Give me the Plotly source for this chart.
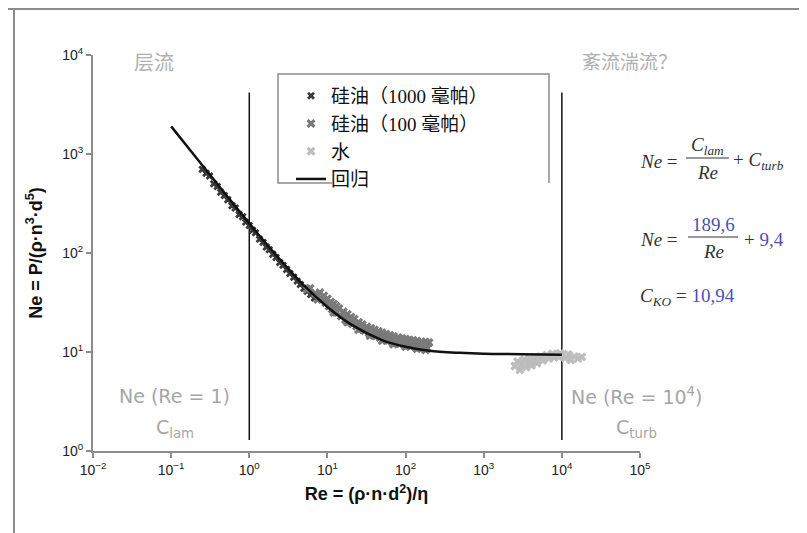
import plotly.graph_objects as go

# ---------------- data ----------------
x_tick_vals = [1e-2, 1e-1, 1e0, 1e1, 1e2, 1e3, 1e4, 1e5]
x_tick_text = ["10<sup>−2</sup>", "10<sup>−1</sup>", "10<sup>0</sup>", "10<sup>1</sup>",
               "10<sup>2</sup>", "10<sup>3</sup>", "10<sup>4</sup>", "10<sup>5</sup>"]
y_tick_vals = [1e0, 1e1, 1e2, 1e3, 1e4]
y_tick_text = ["10<sup>0</sup>", "10<sup>1</sup>", "10<sup>2</sup>", "10<sup>3</sup>", "10<sup>4</sup>"]

series_names = ["硅油（1000 毫帕）", "硅油（100 毫帕）", "水", "回归"]

# silicone oil 1000 mPa
re_1000 = [0.25, 0.28, 0.31, 0.35, 0.39, 0.43, 0.48, 0.53, 0.6, 0.66, 0.74, 0.82, 0.9, 1.0,
           1.1, 1.2, 1.35, 1.5, 1.65, 1.8, 2.0, 2.2, 2.45, 2.7, 3.0, 3.3, 3.7, 4.1, 4.5, 5.0,
           5.5, 6.1, 6.8]
ne_1000 = [700, 640, 600, 500, 470, 410, 380, 345, 300, 285, 245, 232, 205, 190,
           170, 160, 138, 128, 115, 108, 97, 90, 80, 75, 68, 62, 57, 52, 48, 44,
           41, 38, 35]

# silicone oil 100 mPa
re_100 = [8, 9, 10, 11, 12, 13, 14, 16, 18, 20, 22, 25, 28, 32, 36, 40, 45, 50, 56, 63,
          70, 80, 90, 100, 112, 125, 140, 160, 180, 200,
          6, 7, 8.5, 9.5, 10.5, 11.5, 13, 15, 17, 19, 21, 23.5, 26.5, 30, 34, 38, 42, 47,
          53, 60, 67, 75, 85, 95, 106, 118, 132, 150, 170, 190,
          5.5, 7.5, 12, 18, 25, 35, 50, 70, 100, 140, 180]
ne_100 = [40, 37, 34.5, 32, 30.5, 29, 27.5, 25.5, 24, 22.5, 21.5, 20, 19, 18, 17.4, 16.8,
          16.2, 15.6, 15.2, 14.8, 14.4, 14.0, 13.7, 13.5, 13.3, 13.1, 12.9, 12.7, 12.6, 12.5,
          44, 39, 34, 31.5, 29, 27, 25, 23, 21.2, 20.2, 19.2, 18.2, 17.3, 16.4, 15.6, 15.0, 14.5, 14.0,
          13.5, 13.1, 12.7, 12.4, 12.1, 11.9, 11.7, 11.5, 11.3, 11.1, 11.0, 10.9,
          43, 34, 25, 20, 16.8, 14.6, 13.0, 12.0, 11.3, 10.8, 10.5]

# water
re_water = [2500, 2700, 2900, 3100, 3300, 3500, 3700, 3900, 4100, 4300, 4500, 4800, 5100,
            5400, 5700, 6000, 6400, 6800, 7200, 7600, 8000, 8500, 9000, 9500, 10000, 11000,
            12000, 13000, 14500, 16000, 18000]
ne_water = [7.2, 8.0, 6.6, 7.6, 8.4, 7.0, 7.8, 8.6, 7.3, 8.1, 8.8, 7.7, 8.5,
            9.0, 8.2, 8.9, 9.3, 8.6, 9.1, 9.6, 8.8, 9.4, 9.0, 9.7, 9.2, 8.7,
            9.5, 8.3, 9.0, 8.6, 8.9]

# regression curve
re_fit = [0.1, 0.2, 0.5, 1, 2, 5, 10, 20, 50, 100, 200, 500, 1000, 3000, 10000]
ne_fit = [1900, 960, 390, 199, 104, 47, 28.5, 19, 13.2, 11.3, 10.3, 9.8, 9.6, 9.5, 9.4]

# vertical separators at Re = 1 and Re = 10^4
re_limits = [1, 1e4]
ne_limit_span = [1.29, 4170]

# ---------------- figure ----------------
# the page body has an 8px margin; figure is sized to fill the rest of the window
OFF = 8
W, H = 807 - OFF, 533 - OFF
L, R, T, B = 93, 640, 55, 451   # plot area in page pixels


def px(x):
    return (x - L) / (R - L)


def py(y):
    return (B - y) / (B - T)


fig = go.Figure()

for rl in re_limits:
    fig.add_trace(go.Scatter(x=[rl, rl], y=ne_limit_span, mode="lines",
                             line=dict(color="#111111", width=1.5),
                             showlegend=False, hoverinfo="skip"))

fig.add_trace(go.Scatter(x=re_1000, y=ne_1000, mode="markers", name=series_names[0],
                         legendgroup="a",
                         marker=dict(symbol="x", size=7, color="#3a3a3a")))
fig.add_trace(go.Scatter(x=re_100, y=ne_100, mode="markers", name=series_names[1],
                         legendgroup="b",
                         marker=dict(symbol="x", size=8, color="#7a7a7a")))
fig.add_trace(go.Scatter(x=re_water, y=ne_water, mode="markers", name=series_names[2],
                         legendgroup="c",
                         marker=dict(symbol="x", size=8, color="#bdbdbd")))
fig.add_trace(go.Scatter(x=re_fit, y=ne_fit, mode="lines", name=series_names[3],
                         legendgroup="d",
                         line=dict(color="#111111", width=2.5, shape="spline")))

tick_font = dict(family="Liberation Sans, Arial", size=14, color="#222222")
axis_common = dict(type="log", showgrid=False, zeroline=False, showline=True,
                   linecolor="#8c8c8c", linewidth=2, ticks="outside", ticklen=5,
                   tickwidth=1.5, tickcolor="#8c8c8c", tickfont=tick_font, mirror=False)

title_font = dict(family="Liberation Sans, Arial", size=18, color="#111111")
fig.update_xaxes(range=[-2, 5], tickvals=x_tick_vals, ticktext=x_tick_text,
                 title=dict(text="<b>Re = (ρ·n·d<sup>2</sup>)/η</b>", standoff=11, font=title_font),
                 **axis_common)
fig.update_yaxes(range=[0, 4], tickvals=y_tick_vals, ticktext=y_tick_text,
                 title=dict(text="<b>Ne = P/(ρ·n<sup>3</sup>·d<sup>5</sup>)</b>", standoff=15,
                            font=title_font),
                 **axis_common)

gray = "#a6a6a6"
blue = "#4f4fb5"
dark = "#333333"
ann_font = dict(family="DejaVu Sans", size=19, color=gray)
cjk_font = dict(family="Noto Sans CJK SC", size=20, color="#b0b0b0")
eq_font = dict(family="Liberation Serif, DejaVu Serif", size=19, color=dark)

annotations = [
    dict(x=px(154), y=py(62), text="层流", font=cjk_font),
    dict(x=px(629), y=py(60), text="紊流湍流？", font=dict(cjk_font, size=19)),
    dict(x=px(174), y=py(396), text="Ne (Re = 1)", font=ann_font),
    dict(x=px(175), y=py(428), text="C<sub>lam</sub>", font=ann_font),
    dict(x=px(636), y=py(396), text="Ne (Re = 10<sup>4</sup>)", font=ann_font),
    dict(x=px(636), y=py(428), text="C<sub>turb</sub>", font=ann_font),
    # equation 1
    dict(x=px(638), y=py(161), text="<i>Ne</i> =", font=eq_font, xanchor="left"),
    dict(x=px(707), y=py(146), text="<i>C<sub>lam</sub></i>", font=eq_font),
    dict(x=px(707), y=py(172), text="<i>Re</i>", font=eq_font),
    dict(x=px(731), y=py(161), text="+ <i>C<sub>turb</sub></i>", font=eq_font, xanchor="left"),
    # equation 2
    dict(x=px(638), y=py(239), text="<i>Ne</i> =", font=eq_font, xanchor="left"),
    dict(x=px(713), y=py(224), text="189,6", font=dict(eq_font, color=blue)),
    dict(x=px(713), y=py(251), text="<i>Re</i>", font=eq_font),
    dict(x=px(742), y=py(239), text="+ <span style='color:%s'>9,4</span>" % blue,
         font=eq_font, xanchor="left"),
    # equation 3
    dict(x=px(638), y=py(297), text="<i>C<sub>KO</sub></i> = <span style='color:%s'>10,94</span>" % blue,
         font=eq_font, xanchor="left"),
]
for a in annotations:
    a.setdefault("xanchor", "center")
    a.update(xref="paper", yref="paper", yanchor="middle", showarrow=False)

shapes = [
    # fraction bars
    dict(type="line", x0=px(686), x1=px(729), y0=py(158), y1=py(158), line=dict(color=dark, width=1)),
    dict(type="line", x0=px(688), x1=px(738), y0=py(237), y1=py(237), line=dict(color=dark, width=1)),
    # legend frame (open at lower right)
    dict(type="path",
         path="M {a},{b} L {c},{b} L {c},{d} L {e},{d} L {e},{b}".format(
             a=px(332), b=py(183), c=px(278), d=py(74), e=px(549)),
         line=dict(color="#8c8c8c", width=1.5)),
    # outer frame of the picture
    dict(type="line", x0=px(8), x1=px(807), y0=py(9), y1=py(9), line=dict(color="#8c8c8c", width=2)),
    dict(type="line", x0=px(14), x1=px(14), y0=py(9), y1=py(533), line=dict(color="#8c8c8c", width=2)),
]
for s in shapes:
    s.update(xref="paper", yref="paper")

fig.update_layout(
    width=W, height=H,
    margin=dict(l=L - OFF, r=(W + OFF) - R, t=T - OFF, b=(H + OFF) - B, pad=0),
    paper_bgcolor="white", plot_bgcolor="white",
    showlegend=True,
    legend=dict(x=px(291), y=py(77), xanchor="left", yanchor="top",
                bgcolor="rgba(0,0,0,0)", borderwidth=0, tracegroupgap=0,
                font=dict(family="Liberation Serif, Noto Sans CJK SC", size=19, color="#111111")),
    annotations=annotations,
    shapes=shapes,
)

fig.write_html("out.html")
